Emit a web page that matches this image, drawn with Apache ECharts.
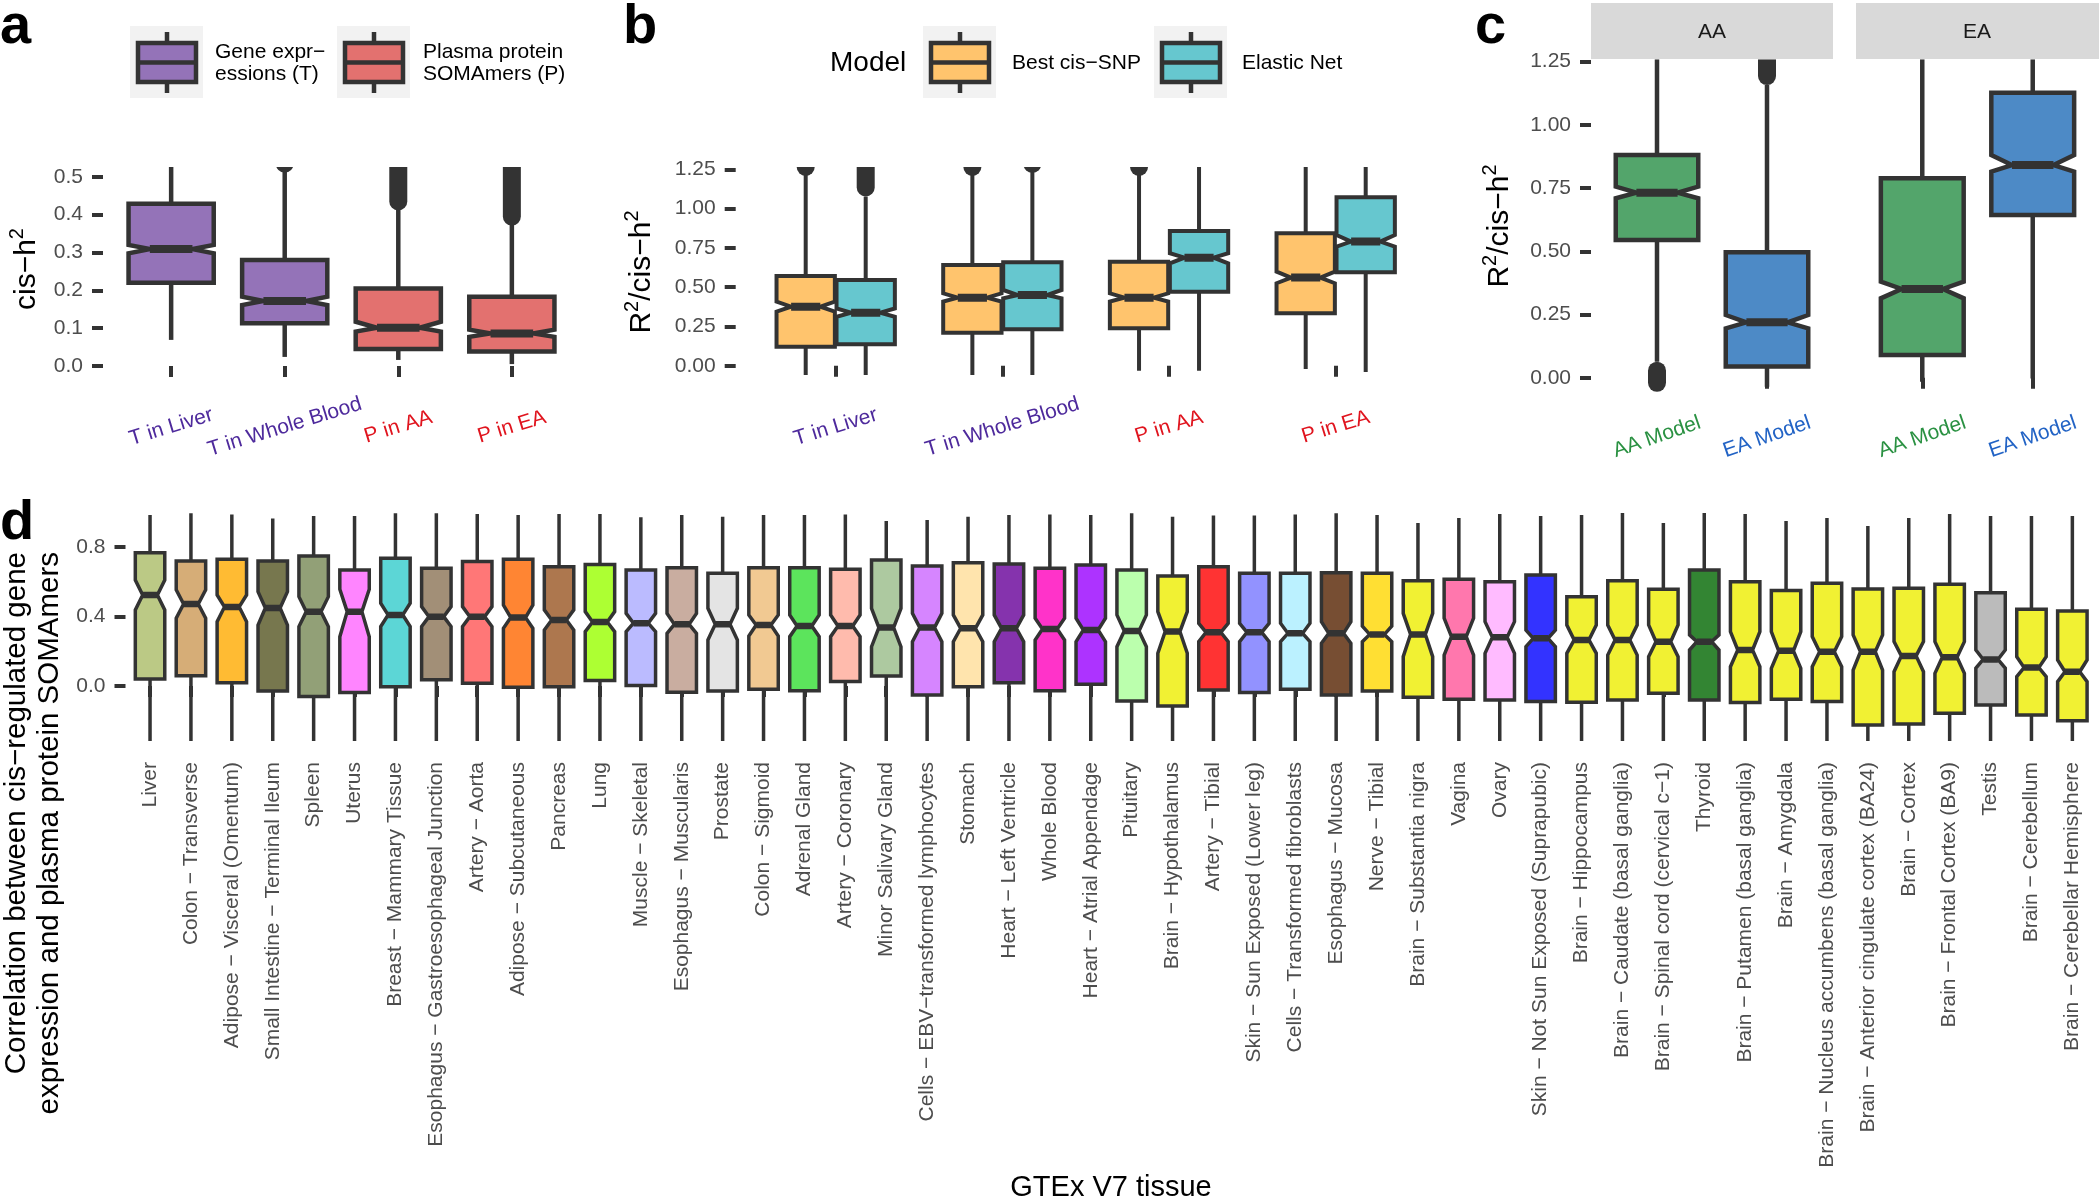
<!DOCTYPE html>
<html>
<head>
<meta charset="utf-8">
<script src="https://cdn.jsdelivr.net/npm/echarts@6/dist/echarts.min.js"></script>
<style>html,body{margin:0;padding:0;background:#fff}#c{width:2100px;height:1200px}</style>
</head>
<body>
<div id="c"></div>
<script>
// ---------------- Panel a ----------------
const aCats = ['T in Liver', 'T in Whole Blood', 'P in AA', 'P in EA'];
const aKind = ['t', 't', 'p', 'p'];
const aFill = ['#9473B8', '#9473B8', '#E3716F', '#E3716F'];
const aLow = [0.069, 0.024, 0.016, 0.005];
const aQ1 = [0.220, 0.113, 0.045, 0.038];
const aMed = [0.309, 0.172, 0.101, 0.086];
const aQ3 = [0.429, 0.280, 0.205, 0.183];
const aHigh = [0.600, 0.520, 0.421, 0.382];
const aNotchLo = [0.298, 0.161, 0.091, 0.077];
const aNotchHi = [0.320, 0.183, 0.117, 0.096];
const aOutLo = [null, 0.535, 0.435, 0.395];
const aOutHi = [null, 0.600, 0.600, 0.600];
const aTicks = [0, 0.1, 0.2, 0.3, 0.4, 0.5];

// ---------------- Panel b ----------------
const bCats = ['T in Liver', 'T in Whole Blood', 'P in AA', 'P in EA'];
const bKind = ['t', 't', 'p', 'p'];
const bModels = ['Best cis−SNP', 'Elastic Net'];
const bModelFill = ['#FFC46D', '#66C7CF'];
const bBestLow = [-0.20, -0.20, -0.032, -0.021];
const bBestQ1 = [0.121, 0.210, 0.238, 0.334];
const bBestMed = [0.376, 0.433, 0.433, 0.561];
const bBestQ3 = [0.571, 0.641, 0.662, 0.843];
const bBestHigh = [1.245, 1.245, 1.245, 1.300];
const bBestNotchLo = [0.344, 0.408, 0.408, 0.525];
const bBestNotchHi = [0.408, 0.461, 0.461, 0.599];
const bBestOutLo = [1.265, 1.265, 1.265, null];
const bBestOutHi = [1.300, 1.300, 1.300, null];
const bNetLow = [-0.20, -0.20, -0.032, -0.040];
const bNetQ1 = [0.136, 0.232, 0.471, 0.595];
const bNetMed = [0.338, 0.450, 0.688, 0.790];
const bNetQ3 = [0.546, 0.659, 0.858, 1.073];
const bNetHigh = [1.077, 1.250, 1.300, 1.300];
const bNetNotchLo = [0.312, 0.429, 0.652, 0.758];
const bNetNotchHi = [0.365, 0.482, 0.716, 0.832];
const bNetOutLo = [1.135, 1.285, null, null];
const bNetOutHi = [1.300, 1.300, null, null];
const bTicks = [0, 0.25, 0.5, 0.75, 1, 1.25];

// ---------------- Panel c ----------------
const cFacets = ['AA', 'EA'];
const cModels = ['AA Model', 'EA Model'];
const cKind = ['g', 'u'];
const cFill = ['#53A56B', '#4D8AC6'];
const cAALow = [0.063, -0.036];
const cAAQ1 = [0.545, 0.044];
const cAAMed = [0.732, 0.219];
const cAAQ3 = [0.881, 0.496];
const cAAHigh = [1.300, 1.158];
const cAANotchLo = [0.710, 0.195];
const cAANotchHi = [0.756, 0.248];
const cAAOutLo = [-0.020, 1.193];
const cAAOutHi = [0.028, 1.300];
const cEALow = [-0.016, -0.003];
const cEAQ1 = [0.090, 0.644];
const cEAMed = [0.351, 0.841];
const cEAQ3 = [0.789, 1.127];
const cEAHigh = [1.300, 1.300];
const cEANotchLo = [0.314, 0.815];
const cEANotchHi = [0.380, 0.881];
const cEAOutLo = [null, null];
const cEAOutHi = [null, null];
const cTicks = [0, 0.25, 0.5, 0.75, 1, 1.25];

// ---------------- Panel d ----------------
const dTissues = ['Liver', 'Colon − Transverse', 'Adipose − Visceral (Omentum)', 'Small Intestine − Terminal Ileum', 'Spleen', 'Uterus', 'Breast − Mammary Tissue', 'Esophagus − Gastroesophageal Junction', 'Artery − Aorta', 'Adipose − Subcutaneous', 'Pancreas', 'Lung', 'Muscle − Skeletal', 'Esophagus − Muscularis', 'Prostate', 'Colon − Sigmoid', 'Adrenal Gland', 'Artery − Coronary', 'Minor Salivary Gland', 'Cells − EBV−transformed lymphocytes', 'Stomach', 'Heart − Left Ventricle', 'Whole Blood', 'Heart − Atrial Appendage', 'Pituitary', 'Brain − Hypothalamus', 'Artery − Tibial', 'Skin − Sun Exposed (Lower leg)', 'Cells − Transformed fibroblasts', 'Esophagus − Mucosa', 'Nerve − Tibial', 'Brain − Substantia nigra', 'Vagina', 'Ovary', 'Skin − Not Sun Exposed (Suprapubic)', 'Brain − Hippocampus', 'Brain − Caudate (basal ganglia)', 'Brain − Spinal cord (cervical c−1)', 'Thyroid', 'Brain − Putamen (basal ganglia)', 'Brain − Amygdala', 'Brain − Nucleus accumbens (basal ganglia)', 'Brain − Anterior cingulate cortex (BA24)', 'Brain − Cortex', 'Brain − Frontal Cortex (BA9)', 'Testis', 'Brain − Cerebellum', 'Brain − Cerebellar Hemisphere'];
const dColors = ['#AABB66', '#CC9955', '#FFAA00', '#555522', '#778855', '#FF66FF', '#33CCCC', '#8B7355', '#FF5555', '#FF6600', '#995522', '#99FF00', '#AAAAFF', '#BB9988', '#DDDDDD', '#EEBB77', '#33DD33', '#FFAA99', '#99BB88', '#CC66FF', '#FFDD99', '#660099', '#FF00BB', '#9900FF', '#AAFF99', '#EEEE00', '#FF0000', '#7777FF', '#AAEEFF', '#552200', '#FFD700', '#EEEE00', '#FF5599', '#FFAAFF', '#0000FF', '#EEEE00', '#EEEE00', '#EEEE00', '#006600', '#EEEE00', '#EEEE00', '#EEEE00', '#EEEE00', '#EEEE00', '#EEEE00', '#AAAAAA', '#EEEE00', '#EEEE00'];
const dLow = [-0.6, -0.6, -0.6, -0.6, -0.6, -0.6, -0.6, -0.6, -0.6, -0.6, -0.6, -0.6, -0.6, -0.6, -0.6, -0.6, -0.6, -0.6, -0.6, -0.6, -0.6, -0.6, -0.6, -0.6, -0.6, -0.6, -0.6, -0.6, -0.6, -0.6, -0.6, -0.6, -0.6, -0.6, -0.6, -0.6, -0.6, -0.6, -0.6, -0.6, -0.6, -0.6, -0.6, -0.6, -0.6, -0.6, -0.6, -0.6];
const dQ1 = [0.040, 0.059, 0.019, -0.029, -0.061, -0.038, -0.004, 0.035, 0.015, -0.008, -0.004, 0.031, 0.002, -0.036, -0.029, -0.019, -0.027, 0.025, 0.058, -0.052, -0.004, 0.019, -0.027, 0.010, -0.086, -0.115, -0.023, -0.038, -0.019, -0.052, -0.029, -0.065, -0.077, -0.081, -0.090, -0.094, -0.081, -0.042, -0.081, -0.096, -0.077, -0.090, -0.225, -0.219, -0.157, -0.109, -0.167, -0.200];
const dMed = [0.524, 0.472, 0.455, 0.449, 0.428, 0.428, 0.409, 0.399, 0.399, 0.394, 0.380, 0.368, 0.361, 0.355, 0.355, 0.351, 0.345, 0.345, 0.336, 0.336, 0.332, 0.332, 0.328, 0.322, 0.317, 0.313, 0.309, 0.309, 0.303, 0.303, 0.297, 0.297, 0.284, 0.280, 0.274, 0.265, 0.265, 0.255, 0.255, 0.207, 0.202, 0.197, 0.197, 0.173, 0.165, 0.153, 0.106, 0.082];
const dQ3 = [0.767, 0.720, 0.729, 0.720, 0.748, 0.668, 0.735, 0.678, 0.716, 0.729, 0.687, 0.700, 0.668, 0.681, 0.649, 0.681, 0.681, 0.672, 0.725, 0.691, 0.710, 0.702, 0.678, 0.697, 0.668, 0.633, 0.687, 0.649, 0.649, 0.652, 0.649, 0.606, 0.614, 0.600, 0.639, 0.514, 0.606, 0.557, 0.668, 0.600, 0.549, 0.591, 0.558, 0.562, 0.585, 0.537, 0.441, 0.432];
const dHigh = [0.984, 0.994, 0.988, 0.965, 0.979, 0.979, 0.994, 0.994, 0.990, 0.984, 0.990, 0.990, 0.971, 0.984, 0.975, 0.984, 0.984, 0.988, 0.950, 0.956, 0.975, 0.984, 0.988, 0.984, 0.994, 0.975, 0.981, 0.981, 0.988, 0.994, 0.984, 0.938, 0.967, 0.990, 0.979, 0.984, 0.996, 0.938, 0.996, 0.990, 0.950, 0.967, 0.921, 0.967, 0.990, 0.979, 0.979, 0.979];
const dNotchLo = [0.438, 0.390, 0.370, 0.351, 0.342, 0.284, 0.342, 0.342, 0.342, 0.332, 0.322, 0.313, 0.313, 0.303, 0.265, 0.288, 0.284, 0.284, 0.226, 0.255, 0.255, 0.255, 0.265, 0.255, 0.226, 0.188, 0.255, 0.255, 0.255, 0.246, 0.255, 0.169, 0.178, 0.188, 0.226, 0.188, 0.178, 0.169, 0.207, 0.111, 0.102, 0.111, 0.092, 0.082, 0.073, 0.102, 0.054, 0.025];
const dNotchHi = [0.610, 0.553, 0.524, 0.543, 0.514, 0.557, 0.476, 0.457, 0.457, 0.466, 0.438, 0.428, 0.418, 0.418, 0.447, 0.409, 0.409, 0.409, 0.447, 0.418, 0.409, 0.409, 0.390, 0.390, 0.409, 0.428, 0.361, 0.361, 0.361, 0.370, 0.345, 0.418, 0.390, 0.370, 0.322, 0.351, 0.351, 0.351, 0.294, 0.313, 0.313, 0.284, 0.294, 0.255, 0.255, 0.207, 0.169, 0.150];
const dTicks = [0, 0.4, 0.8];

// ---------------- helpers ----------------
const FONT = '"Liberation Sans", Arial, Helvetica, sans-serif';
const LINE = '#333333';
const TICKLAB = '#4D4D4D';

function rowsFrom(xs, lo, q1, md, q3, hi, nlo, nhi, olo, ohi, fills) {
  return xs.map((x, i) => ({
    x: x, lo: lo[i], q1: q1[i], med: md[i], q3: q3[i], hi: hi[i],
    nlo: nlo[i], nhi: nhi[i], olo: olo ? olo[i] : null, ohi: ohi ? ohi[i] : null,
    fill: fills[i]
  }));
}

function boxRenderer(rows, cfg) {
  return function (params, api) {
    const r = rows[params.dataIndex];
    const cs = params.coordSys;
    const cx = api.coord([r.x, r.med])[0];
    const Y = v => api.coord([r.x, v])[1];
    const half = api.size([cfg.width, 0])[0] / 2;
    const xl = cx - half, xr = cx + half, nx = half / 2;
    const yq1 = Y(r.q1), yq3 = Y(r.q3), ym = Y(r.med), ynl = Y(r.nlo), ynh = Y(r.nhi);
    const ch = [];
    ch.push({ type: 'line', shape: { x1: cx, y1: yq3, x2: cx, y2: Y(r.hi) }, style: { stroke: LINE, lineWidth: cfg.wl } });
    ch.push({ type: 'line', shape: { x1: cx, y1: yq1, x2: cx, y2: Y(r.lo) }, style: { stroke: LINE, lineWidth: cfg.wl } });
    if (r.olo !== null && r.olo !== undefined) {
      ch.push({ type: 'line', shape: { x1: cx, y1: Y(r.olo), x2: cx, y2: Y(r.ohi) }, style: { stroke: LINE, lineWidth: cfg.pt, lineCap: 'round' } });
    }
    ch.push({
      type: 'polygon',
      shape: { points: [[xl, yq3], [xl, ynh], [xl + nx, ym], [xl, ynl], [xl, yq1], [xr, yq1], [xr, ynl], [xr - nx, ym], [xr, ynh], [xr, yq3]] },
      style: { fill: r.fill, opacity: 1, stroke: LINE, lineWidth: cfg.bl, lineJoin: 'miter' }
    });
    ch.push({ type: 'line', shape: { x1: xl + nx, y1: ym, x2: xr - nx, y2: ym }, style: { stroke: LINE, lineWidth: cfg.ml } });
    return {
      type: 'group',
      clipPath: { type: 'rect', shape: { x: cs.x, y: cs.y, width: cs.width, height: cs.height } },
      children: ch
    };
  };
}

function fadeColor(hex, a) {
  const n = parseInt(hex.slice(1), 16);
  const r = (n >> 16) & 255, g = (n >> 8) & 255, b = n & 255;
  const m = v => Math.round(v * a + 255 * (1 - a));
  return 'rgb(' + m(r) + ',' + m(g) + ',' + m(b) + ')';
}

const labelRich = {
  t: { color: '#4E2A9C', fontSize: 21, fontFamily: FONT },
  p: { color: '#E0141E', fontSize: 21, fontFamily: FONT },
  g: { color: '#2A9142', fontSize: 21, fontFamily: FONT },
  u: { color: '#2263C5', fontSize: 21, fontFamily: FONT }
};

function yAxisDef(gridIndex, min, max, ticks, digits, showLabels) {
  return {
    gridIndex: gridIndex, type: 'value', min: min, max: max,
    axisLine: { show: false }, splitLine: { show: false },
    axisTick: { show: showLabels, customValues: ticks, length: 11, lineStyle: { color: LINE, width: 4 } },
    axisLabel: {
      show: showLabels, customValues: ticks, margin: 20, color: TICKLAB, fontSize: 21, fontFamily: FONT,
      formatter: v => Number(v).toFixed(digits)
    }
  };
}

function xAxisDef(gridIndex, n, names, kinds, rotate, margin) {
  const vals = names.map((_, i) => i + 1);
  return {
    gridIndex: gridIndex, type: 'value', min: 0.4, max: n + 0.6,
    axisLine: { show: false }, splitLine: { show: false },
    axisTick: { show: true, customValues: vals, length: 11, lineStyle: { color: LINE, width: 4 } },
    axisLabel: {
      customValues: vals, rotate: rotate, margin: margin, align: 'center', verticalAlign: 'middle',
      formatter: v => '{' + kinds[Math.round(v) - 1] + '|' + names[Math.round(v) - 1] + '}',
      rich: labelRich
    }
  };
}

// rows
const aRows = rowsFrom(aCats.map((_, i) => i + 1), aLow, aQ1, aMed, aQ3, aHigh, aNotchLo, aNotchHi, aOutLo, aOutHi, aFill);
const bRowsBest = rowsFrom(bCats.map((_, i) => i + 1 - 0.18), bBestLow, bBestQ1, bBestMed, bBestQ3, bBestHigh, bBestNotchLo, bBestNotchHi, bBestOutLo, bBestOutHi, bCats.map(() => bModelFill[0]));
const bRowsNet = rowsFrom(bCats.map((_, i) => i + 1 + 0.18), bNetLow, bNetQ1, bNetMed, bNetQ3, bNetHigh, bNetNotchLo, bNetNotchHi, bNetOutLo, bNetOutHi, bCats.map(() => bModelFill[1]));
const cRowsAA = rowsFrom(cModels.map((_, i) => i + 1), cAALow, cAAQ1, cAAMed, cAAQ3, cAAHigh, cAANotchLo, cAANotchHi, cAAOutLo, cAAOutHi, cFill);
const cRowsEA = rowsFrom(cModels.map((_, i) => i + 1), cEALow, cEAQ1, cEAMed, cEAQ3, cEAHigh, cEANotchLo, cEANotchHi, cEAOutLo, cEAOutHi, cFill);
const dRows = rowsFrom(dTissues.map((_, i) => i + 1), dLow, dQ1, dMed, dQ3, dHigh, dNotchLo, dNotchHi, null, null, dColors.map(c => fadeColor(c, 0.8)));

const bigCfg = { width: 0.75, wl: 4.5, bl: 4.5, ml: 8, pt: 18 };
const bCfg = { width: 0.35, wl: 4, bl: 4, ml: 8, pt: 18 };
const dCfg = { width: 0.72, wl: 3.5, bl: 3.5, ml: 6.5, pt: 12 };

function boxSeries(xi, yi, rows, cfg) {
  return {
    type: 'custom', xAxisIndex: xi, yAxisIndex: yi, clip: true, silent: true,
    renderItem: boxRenderer(rows, cfg),
    data: rows.map(r => [r.x, r.med]),
    encode: { x: 0, y: 1 }
  };
}

// legend graphics
function legendKey(cx, color) {
  return [
    { type: 'rect', shape: { x: cx - 37, y: 26, width: 73, height: 72 }, style: { fill: '#F2F2F2' } },
    { type: 'line', shape: { x1: cx, y1: 32, x2: cx, y2: 93 }, style: { stroke: LINE, lineWidth: 4.5 } },
    { type: 'rect', shape: { x: cx - 29, y: 43, width: 58, height: 39 }, style: { fill: color, stroke: LINE, lineWidth: 4.5 } },
    { type: 'line', shape: { x1: cx - 29, y1: 62.5, x2: cx + 29, y2: 62.5 }, style: { stroke: LINE, lineWidth: 4.5 } }
  ];
}
function txt(text, x, y, size, opts) {
  opts = opts || {};
  const st = {
    text: text, x: 0, y: 0, fill: opts.color || '#000', fontSize: size, fontFamily: FONT,
    fontWeight: opts.weight || 'normal', align: opts.align || 'left', verticalAlign: opts.va || 'middle'
  };
  if (opts.lh) st.lineHeight = opts.lh;
  if (opts.rich) st.rich = opts.rich;
  return { type: 'text', x: x, y: y, rotation: opts.rot || 0, style: st };
}

const supRich = {
  n: { fontSize: 30, fontFamily: FONT, fill: '#000', color: '#000', lineHeight: 40 },
  s: { fontSize: 20, fontFamily: FONT, fill: '#000', color: '#000', lineHeight: 30, verticalAlign: 'top' }
};

const graphics = [].concat(
  [txt('a', 0, 28, 56, { weight: 'bold' }), txt('b', 623, 28, 56, { weight: 'bold' }), txt('c', 1475, 28, 56, { weight: 'bold' }), txt('d', 0, 524, 56, { weight: 'bold' })],
  legendKey(167, aFill[0]), legendKey(374, aFill[2]),
  [txt('Gene expr−\nessions (T)', 215, 63, 21, { lh: 22 }), txt('Plasma protein\nSOMAmers (P)', 423, 63, 21, { lh: 22 })],
  [txt('Model', 830, 63, 28)],
  legendKey(960, bModelFill[0]), legendKey(1191, bModelFill[1]),
  [txt(bModels[0], 1012, 63, 21), txt(bModels[1], 1242, 63, 21)],
  [
    { type: 'rect', shape: { x: 1591, y: 3, width: 242, height: 56 }, style: { fill: '#D9D9D9' } },
    { type: 'rect', shape: { x: 1856, y: 3, width: 243, height: 56 }, style: { fill: '#D9D9D9' } },
    txt(cFacets[0], 1712, 32, 21, { align: 'center', color: '#1A1A1A' }),
    txt(cFacets[1], 1977, 32, 21, { align: 'center', color: '#1A1A1A' })
  ],
  [
    txt('{n|cis−h}{s|2}', 27, 269, 30, { rot: Math.PI / 2, align: 'center', rich: supRich }),
    txt('{n|R}{s|2}{n|/cis−h}{s|2}', 642, 272, 30, { rot: Math.PI / 2, align: 'center', rich: supRich }),
    txt('{n|R}{s|2}{n|/cis−h}{s|2}', 1500, 226, 30, { rot: Math.PI / 2, align: 'center', rich: supRich }),
    txt('Correlation between cis−regulated gene\nexpression and plasma protein SOMAmers', 33, 552, 29.5, { rot: Math.PI / 2, align: 'right', lh: 33 }),
    txt('GTEx V7 tissue', 1111, 1188, 29, { align: 'center' })
  ]
);

const option = {
  animation: false,
  backgroundColor: '#ffffff',
  textStyle: { fontFamily: FONT },
  grid: [
    { left: 103, top: 167, width: 477, height: 208 },
    { left: 735.7, top: 167, width: 700, height: 208 },
    { left: 1591, top: 59.3, width: 242, height: 333.7 },
    { left: 1856, top: 59.3, width: 243, height: 333.7 },
    { left: 125.5, top: 512.3, width: 1971.4, height: 228.7 }
  ],
  xAxis: [
    xAxisDef(0, 4, aCats, aKind, 17, 52),
    xAxisDef(1, 4, bCats, bKind, 17, 52),
    xAxisDef(2, 2, cModels, cKind, 19, 44),
    xAxisDef(3, 2, cModels, cKind, 19, 44),
    {
      gridIndex: 4, type: 'value', min: 0.4, max: dTissues.length + 0.6,
      axisLine: { show: false }, splitLine: { show: false },
      axisTick: { show: true, customValues: dTissues.map((_, i) => i + 1), length: 11, lineStyle: { color: LINE, width: 4 } },
      axisLabel: {
        customValues: dTissues.map((_, i) => i + 1), rotate: 90, margin: 21, align: 'right', verticalAlign: 'middle',
        color: TICKLAB, fontSize: 21, fontFamily: FONT,
        formatter: v => dTissues[Math.round(v) - 1]
      }
    }
  ],
  yAxis: [
    yAxisDef(0, -0.0238, 0.526, aTicks, 1, true),
    yAxisDef(1, -0.059, 1.265, bTicks, 2, true),
    yAxisDef(2, -0.0605, 1.2595, cTicks, 2, true),
    yAxisDef(3, -0.0605, 1.2595, cTicks, 2, false),
    yAxisDef(4, -0.317, 1.0, dTicks, 1, true)
  ],
  series: [
    boxSeries(0, 0, aRows, bigCfg),
    boxSeries(1, 1, bRowsBest, bCfg),
    boxSeries(1, 1, bRowsNet, bCfg),
    boxSeries(2, 2, cRowsAA, bigCfg),
    boxSeries(3, 3, cRowsEA, bigCfg),
    boxSeries(4, 4, dRows, dCfg)
  ],
  graphic: graphics
};

const chart = echarts.init(document.getElementById('c'), null, { renderer: 'canvas' });
chart.setOption(option);
</script>
</body>
</html>
